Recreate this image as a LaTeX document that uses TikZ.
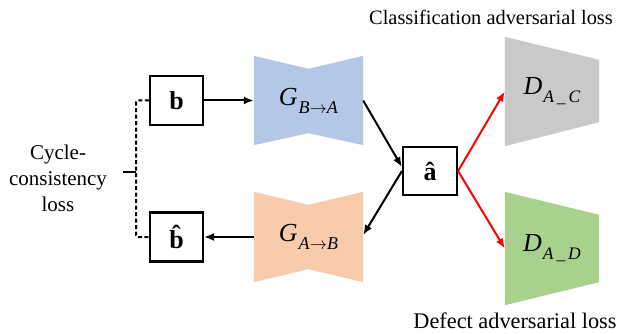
\documentclass[tikz,border=0pt]{standalone}
\usepackage{fontspec}
\setmainfont{Liberation Serif}
\usetikzlibrary{arrows.meta,calc,backgrounds}

\newcommand{\glab}[2]{{\fontsize{26}{26}\selectfont\textit{G}}\kern1pt\raisebox{-8pt}{\fontsize{18}{18}\selectfont\textit{#1}$\rightarrow$\textit{#2}}}
\newcommand{\dlab}[1]{{\fontsize{26}{26}\selectfont\textit{D}}\kern1pt\raisebox{-8pt}{\fontsize{17.5}{17.5}\selectfont\textit{A}\,\_\,\textit{#1}}}

\tikzset{
  box/.style={draw, line width=2.2pt, minimum width=53pt, minimum height=49pt, inner sep=0pt, font=\fontsize{26}{26}\selectfont\bfseries},
  genbox/.style={minimum width=109pt, minimum height=89pt, inner sep=0pt},
  disbox/.style={minimum width=94pt, inner sep=0pt},
  arr/.style={->, line width=2pt},
  lbl/.style={font=\fontsize{21}{26}\selectfont, inner sep=0pt}
}

\begin{document}
\begin{tikzpicture}[>={Latex[length=10pt,width=8pt]}, x=1pt, y=-1pt]
  \useasboundingbox (0,0) rectangle (619,334);

  % input / reconstruction / fake
  \node[box] (b) at (176.5,100.5) {b};
  \node[box] (bhat) at (176.5,237) {\^{b}};
  \node[box, minimum width=54pt, minimum height=48pt] (ahat) at (430,171) {â};

  % generators
  \node[genbox] (gba) at (308.5,100.5) {\glab{B}{A}};
  \node[genbox, minimum height=90pt] (gab) at (308.5,237) {\glab{A}{B}};

  % discriminators
  \node[disbox, minimum height=109pt] (dc) at (552,91.5) {\dlab{C}};
  \node[disbox, minimum height=113pt] (dd) at (552,248.5) {\dlab{D}};

  \begin{scope}[on background layer]
    \fill[fill={rgb,255:red,180;green,199;blue,231}]
      (gba.north west) -- ($(gba.north)+(0,13)$) -- (gba.north east)
      -- (gba.south east) -- ($(gba.south)+(0,-12)$) -- (gba.south west) -- cycle;
    \fill[fill={rgb,255:red,248;green,203;blue,173}]
      (gab.north west) -- ($(gab.north)+(0,13)$) -- (gab.north east)
      -- (gab.south east) -- ($(gab.south)+(0,-13)$) -- (gab.south west) -- cycle;
    \fill[fill={rgb,255:red,201;green,201;blue,201}]
      (dc.north west) -- ($(dc.north east)+(0,23)$) -- ($(dc.south east)+(0,-24)$)
      -- (dc.south west) -- cycle;
    \fill[fill={rgb,255:red,169;green,209;blue,142}]
      (dd.north west) -- ($(dd.north east)+(0,23)$) -- ($(dd.south east)+(0,-23)$)
      -- (dd.south west) -- cycle;
  \end{scope}

  % arrows
  \draw[arr] (b.east) -- (gba.west);
  \draw[arr] (gba.east) -- ($(ahat.west)+(0,-4)$);
  \draw[arr] (ahat.west) -- ($(gab.east)+(0,-2)$);
  \draw[arr] (gab.west) -- (bhat.east);
  \draw[arr, red] (ahat.east) -- (dc.west);
  \draw[arr, red] (ahat.east) -- (dd.west);

  % cycle-consistency bracket
  \node[lbl, align=center] (cyc) at (58,178) {Cycle-\\consistency\\loss};
  \coordinate (brk) at (136,172);
  \draw[line width=2pt, dash pattern=on 4pt off 2.5pt, rounded corners=2pt]
    (b.west) -- (b.west -| brk) -- (bhat.west -| brk) -- (bhat.west);
  \draw[line width=2pt] (brk) -- ++(-13,0);

  % loss labels
  \node[lbl, anchor=base, font=\fontsize{20.4}{26}\selectfont] (cls) at (491,25) {Classification adversarial loss};
  \node[lbl, anchor=base, font=\fontsize{22.3}{26}\selectfont] (dft) at (515,328) {Defect adversarial loss};
\end{tikzpicture}
\end{document}
